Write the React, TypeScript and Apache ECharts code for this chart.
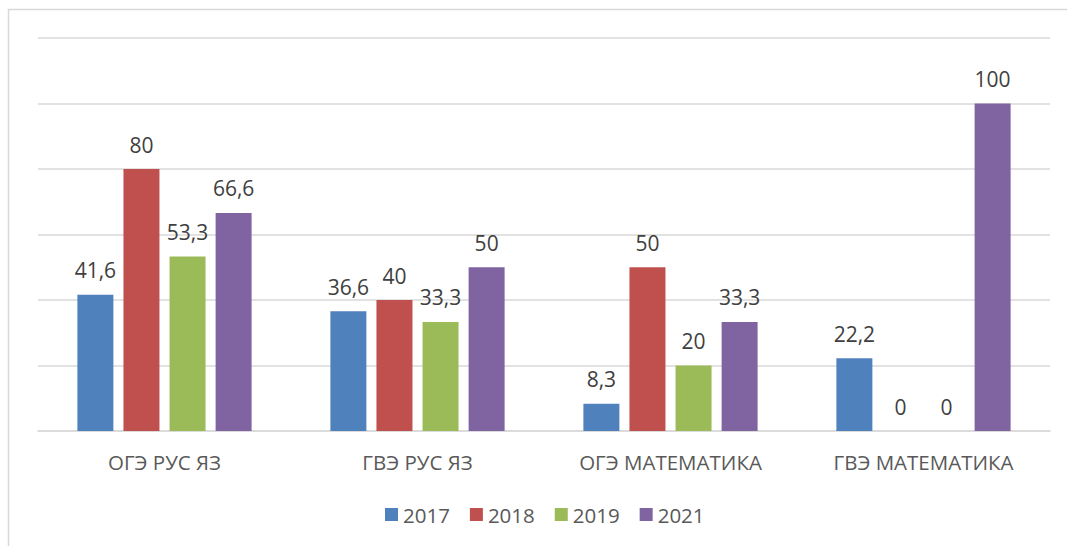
import React, { useEffect, useRef } from "react";
import * as echarts from "echarts";

const categories = ["ОГЭ РУС ЯЗ", "ГВЭ РУС ЯЗ", "ОГЭ МАТЕМАТИКА", "ГВЭ МАТЕМАТИКА"];
const seriesNames = ["2017", "2018", "2019", "2021"];
const values2017 = [41.6, 36.6, 8.3, 22.2];
const values2018 = [80, 40, 50, 0];
const values2019 = [53.3, 33.3, 20, 0];
const values2021 = [66.6, 50, 33.3, 100];
const colors = ["#4F81BD", "#C0504D", "#9BBB59", "#8064A2"];

export default function App() {
  const ref = useRef<HTMLDivElement>(null);
  useEffect(() => {
    if (!ref.current) return;
    const chart = echarts.init(ref.current, null, { renderer: "svg" });
    const data = [values2017, values2018, values2019, values2021];
    const font = "'Open Sans', 'Noto Sans', sans-serif";
    chart.setOption({
      animation: false,
      backgroundColor: "#ffffff",
      textStyle: { fontFamily: font },
      graphic: [
        {
          type: "rect",
          shape: { x: 8.5, y: 9.5, width: 1200, height: 700 },
          style: { fill: "none", stroke: "#d9d9d9", lineWidth: 1.5 },
          silent: true,
          z: -1,
        },
      ],
      grid: { left: 38, right: 17, top: 38, bottom: 115, containLabel: false },
      legend: {
        left: 380,
        top: 499,
        itemWidth: 13,
        itemHeight: 13,
        itemGap: 20,
        icon: "rect",
        textStyle: { fontSize: 20.5, color: "#595959", fontFamily: font },
        data: seriesNames,
      },
      xAxis: {
        type: "category",
        data: categories,
        axisLine: { show: true, lineStyle: { color: "#d9d9d9", width: 1.5 } },
        axisTick: { show: false },
        axisLabel: { color: "#595959", fontSize: 20.5, margin: 20, fontFamily: font },
      },
      yAxis: {
        type: "value",
        min: 0,
        max: 120,
        interval: 20,
        axisLabel: { show: false },
        axisLine: { show: false },
        axisTick: { show: false },
        splitLine: { lineStyle: { color: "#d9d9d9", width: 1.5 } },
      },
      series: seriesNames.map((name, i) => ({
        name,
        type: "bar",
        data: data[i],
        barWidth: 36,
        barGap: "28%",
        itemStyle: { color: colors[i] },
        label: {
          show: true,
          position: "top",
          distance: 14,
          fontSize: 21,
          color: "#404040",
          fontFamily: font,
          formatter: (p: any) => String(p.value).replace(".", ","),
        },
      })),
    });
    return () => chart.dispose();
  }, []);
  return (
    <div
      ref={ref}
      style={{ position: "absolute", left: 0, top: 0, width: 1067, height: 546 }}
    />
  );
}
